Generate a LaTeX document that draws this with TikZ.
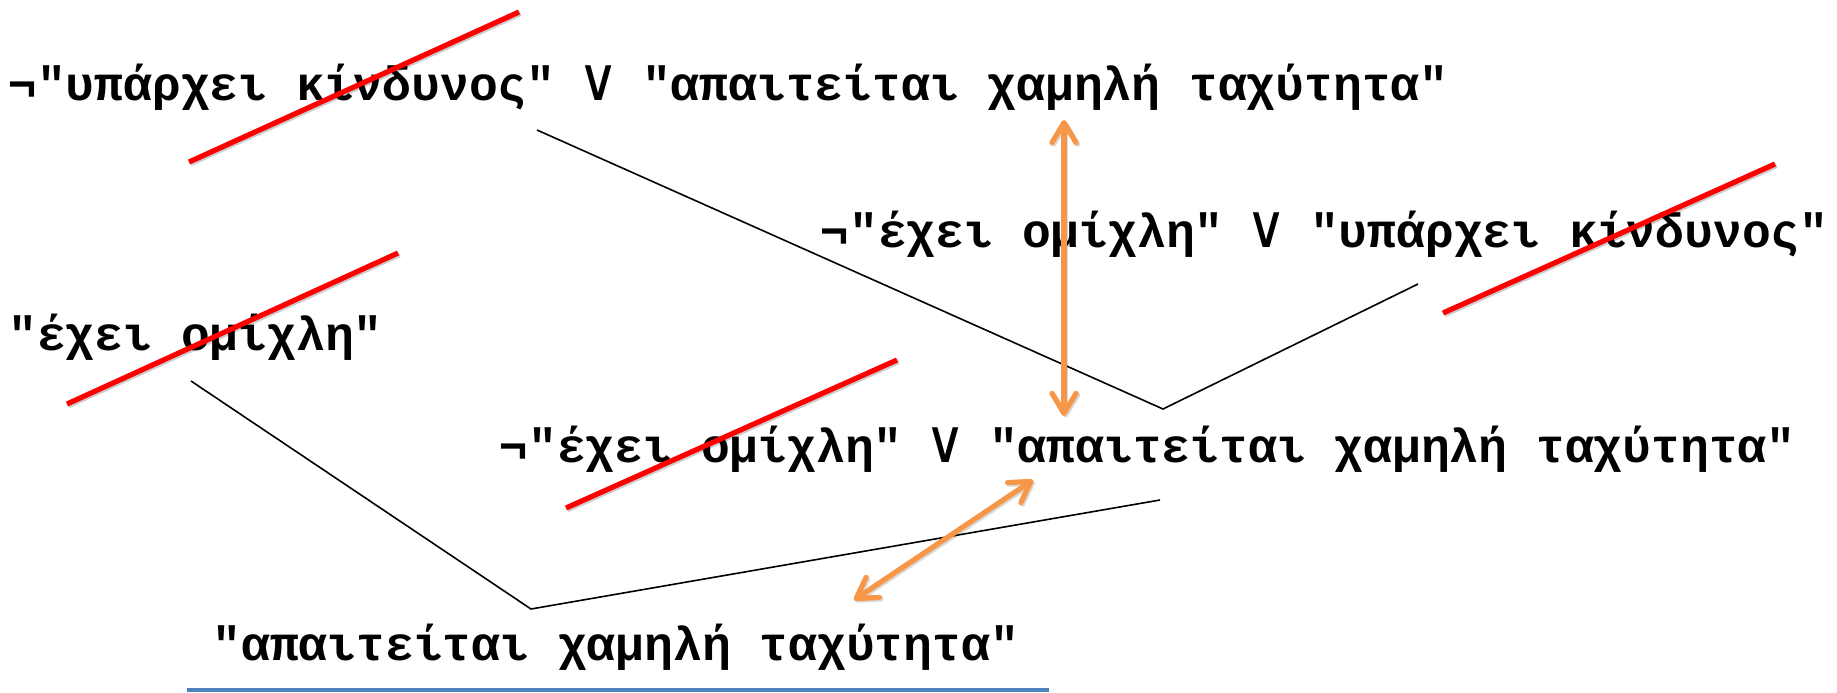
\documentclass[tikz,border=0pt]{standalone}
\usepackage{fontspec}
\setmonofont{Liberation Mono}
\newfontfamily\orfont{DejaVu Sans Mono}
\newcommand\myor{\makebox[14.4pt][c]{\orfont\mdseries\fontsize{30}{30}\selectfont ∨}}
\usetikzlibrary{arrows.meta}
\definecolor{orangeC}{RGB}{247,150,70}
\definecolor{blueC}{RGB}{79,129,189}
\begin{document}
\begin{tikzpicture}[x=0.5pt,y=-0.5pt,
  txt/.style={anchor=base west,inner sep=0pt,font=\ttfamily\bfseries\fontsize{24}{28}\selectfont},
  link/.style={black,line width=0.8pt},
  strike/.style={red,line width=2.6pt,preaction={draw=black,opacity=0.2,line width=2.6pt,transform canvas={shift={(0.8pt,-0.8pt)}}}},
  dbl/.style={orangeC,line width=2.6pt,{Straight Barb[length=10pt,width=12pt,round]}-{Straight Barb[length=10pt,width=12pt,round]},preaction={draw=black,opacity=0.15,line width=2.6pt,transform canvas={shift={(0.8pt,-0.8pt)}}}},
  under/.style={blueC,line width=1.6pt}]
\useasboundingbox (0,0) rectangle (1837,692);
% texts
\node[txt] (t1) at (8,100) {¬"υπάρχει κίνδυνος" \myor{} "απαιτείται χαμηλή ταχύτητα"};
\node[txt] (t2) at (820,247) {¬"έχει ομίχλη" \myor{} "υπάρχει κίνδυνος"};
\node[txt] (t3) at (8,350) {"έχει ομίχλη"};
\node[txt] (t4) at (499,462) {¬"έχει ομίχλη" \myor{} "απαιτείται χαμηλή ταχύτητα"};
\node[txt] (t5) at (212,660) {"απαιτείται χαμηλή ταχύτητα"};
% resolution links
\coordinate (p1) at (537,130);
\coordinate (r1) at (1163,409);
\coordinate (p2) at (1418,284);
\coordinate (q1) at (191,381);
\coordinate (r2) at (531,609);
\coordinate (q2) at (1160,500);
\draw[link] (p1) -- (r1) -- (p2);
\draw[link] (q1) -- (r2) -- (q2);
% strike-throughs
\draw[strike] (189,162) -- (519,12);
\draw[strike] (1443,313) -- (1775,164);
\draw[strike] (67,404) -- (398,253);
\draw[strike] (566,508) -- (897,360);
% orange arrows
\coordinate (a1) at (1064,120);
\coordinate (a2) at (1064,416);
\coordinate (b1) at (1033,480);
\coordinate (b2) at (854,600);
\draw[dbl] (a1) -- (a2);
\draw[dbl] (b1) -- (b2);
% underline
\coordinate (u1) at (187,690);
\coordinate (u2) at (1049,690);
\draw[under] (u1) -- (u2);
\end{tikzpicture}
\end{document}
